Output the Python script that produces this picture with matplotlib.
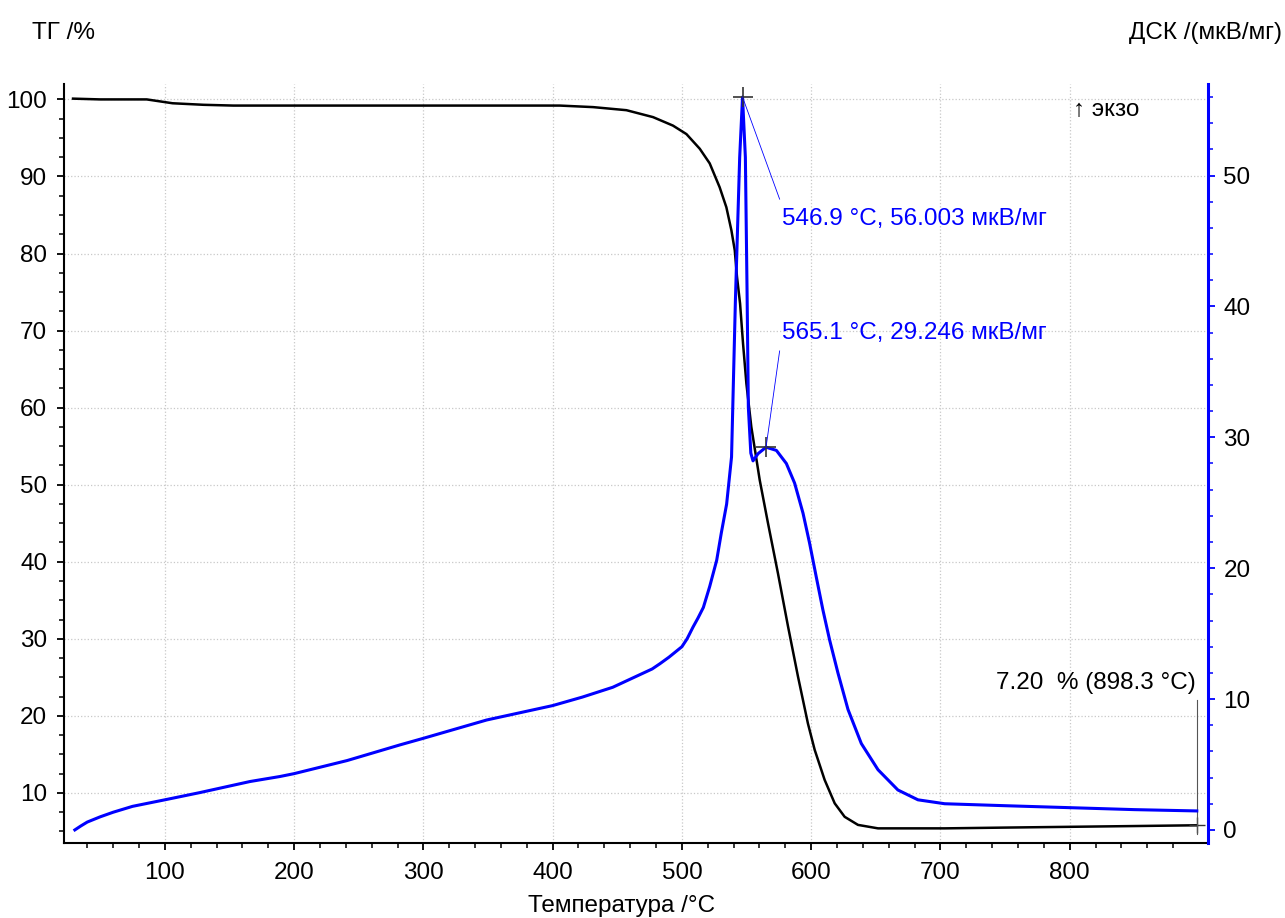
import numpy as np
import matplotlib
matplotlib.use("Agg")
import matplotlib.pyplot as plt
from matplotlib.ticker import MultipleLocator, FixedLocator

plt.rcParams['font.family'] = ['Liberation Sans', 'DejaVu Sans']
FS = 17.5

# TG curve (% mass)
tg_temp = [29, 50, 86, 106, 130, 153, 204, 300, 405.5, 431.3, 457.1, 477.7, 493.1,
           503.5, 513.8, 521.5, 529.2, 534.4, 538.3, 540.9, 542.6, 545, 547.3, 549.9,
           553.7, 560.2, 566.6, 574.3, 582.1, 589.8, 597.5, 602.7, 610.4, 618.2,
           625.9, 636.2, 651.7, 703.3, 750, 800, 850, 898.3]
tg_vals = [100.1, 100.0, 100.0, 99.5, 99.3, 99.2, 99.2, 99.2, 99.2, 99.0, 98.6, 97.7,
           96.6, 95.5, 93.6, 91.7, 88.6, 86.0, 83.0, 80.4, 77.0, 73.5, 68.3, 63.1,
           57.5, 50.6, 45.0, 38.5, 31.6, 25.1, 19.0, 15.6, 11.7, 8.65,
           6.9, 5.85, 5.4, 5.4, 5.5, 5.6, 5.7, 5.8]

# DSC curve (мкВ/мг)
dsc_temp = [30.4, 35, 40, 50, 60, 75, 100, 127, 166, 189, 200, 241, 282, 300, 349,
            400, 423, 446.5, 477, 483, 490, 500, 504, 508.6, 512.5, 516.6, 521.5,
            526.9, 530.5, 534.6, 538.4, 541.4, 544.7, 546.9, 549.1, 550.4, 551.4,
            553.3, 555, 558.9, 565.1, 573.1, 580.8, 587.2, 593.7, 598.8, 604, 609.1,
            614.3, 620.7, 628.5, 638.8, 651.7, 667.1, 682.6, 703.3, 750, 800, 850, 898.3]
dsc_vals = [0.0, 0.3, 0.6, 1.0, 1.35, 1.8, 2.3, 2.85, 3.7, 4.08, 4.3, 5.3, 6.5, 7.0,
            8.4, 9.5, 10.15, 10.9, 12.3, 12.7, 13.2, 14.0, 14.6, 15.5, 16.2, 17.0,
            18.6, 20.6, 22.7, 24.9, 28.5, 40.5, 51.4, 56.003, 51.4, 41.2, 32.3,
            28.8, 28.2, 28.75, 29.246, 29.0, 28.0, 26.5, 24.2, 21.9, 19.3, 16.8,
            14.5, 12.0, 9.2, 6.6, 4.6, 3.05, 2.3, 2.0, 1.85, 1.7, 1.55, 1.45]

x_major = [100, 200, 300, 400, 500, 600, 700, 800]
x_minor = [t for t in range(40, 900, 20) if t % 100 != 0]

peak1 = (546.9, 56.003)
peak2 = (565.1, 29.246)
tg_end = (898.3, 5.8)

fig = plt.figure(figsize=(12.85, 9.18), dpi=100)
ax = fig.add_axes([0.0498, 0.0817, 0.8903, 0.8268])
ax2 = ax.twinx()

ax.plot(tg_temp, tg_vals, color='black', lw=1.8)
ax2.plot(dsc_temp, dsc_vals, color='#0000ff', lw=2.2)

ax.set_xlim(22, 907)
ax.set_ylim(3.5, 102)
ax2.set_ylim(-1, 57)

ax.xaxis.set_major_locator(FixedLocator(x_major))
ax.xaxis.set_minor_locator(FixedLocator(x_minor))
ax.yaxis.set_major_locator(MultipleLocator(10))
ax.yaxis.set_minor_locator(MultipleLocator(2.5))
ax2.yaxis.set_major_locator(MultipleLocator(10))
ax2.yaxis.set_minor_locator(MultipleLocator(2))

ax.grid(True, which='major', color='#c8c8c8', ls=':', lw=0.9)

for a in (ax, ax2):
    a.spines['top'].set_visible(False)
ax.spines['right'].set_visible(False)
ax2.spines['left'].set_visible(False)
ax2.spines['bottom'].set_visible(False)
ax.spines['left'].set_linewidth(1.5)
ax.spines['bottom'].set_linewidth(1.5)
ax2.spines['right'].set_color('#0000ff')
ax2.spines['right'].set_linewidth(2.2)

ax.tick_params(axis='both', which='major', length=5, width=1.3, labelsize=FS)
ax.tick_params(axis='both', which='minor', length=3.5, width=1.1)
ax.tick_params(axis='x', pad=9)
ax.tick_params(axis='y', pad=7)
ax2.tick_params(axis='y', which='major', length=5, width=1.3, colors='#0000ff',
                labelcolor='black', labelsize=FS, pad=6)
ax2.tick_params(axis='y', which='minor', length=3.5, width=1.1, colors='#0000ff')

# peak markers and labels
ax2.plot(*peak1, marker='+', color='#333333', ms=14, mew=1.2)
ax2.plot(*peak2, marker='+', color='#333333', ms=14, mew=1.2)
ax2.plot([peak1[0], 575.6], [peak1[1], 48.2], color='#0000ff', lw=0.6)
ax2.plot([peak2[0], 575.6], [peak2[1], 36.6], color='#0000ff', lw=0.6)
ax2.text(577.2, 46.7, "546.9 °C, 56.003 мкВ/мг", color='#0000ff', fontsize=FS,
         va='center', ha='left')
ax2.text(577.2, 38.0, "565.1 °C, 29.246 мкВ/мг", color='#0000ff', fontsize=FS,
         va='center', ha='left')

# residual mass marker
ax.plot(*tg_end, marker='+', color='#333333', ms=12, mew=1.0)
ax.plot([tg_end[0], tg_end[0]], [4.7, 22.0], color='#555555', lw=0.8)
ax.text(0.9895, 0.211, "7.20  % (898.3 °C)", transform=ax.transAxes, fontsize=FS,
        ha='right', va='center')

ax.text(0.882, 0.966, "↑ экзо", transform=ax.transAxes, fontsize=FS,
        ha='left', va='center')

fig.text(0.025, 0.964, "ТГ /%", fontsize=FS, ha='left', va='center')
fig.text(0.998, 0.964, "ДСК /(мкВ/мг)", fontsize=FS, ha='right', va='center')
fig.text(0.484, 0.013, "Температура /°C", fontsize=FS, ha='center', va='center')

fig.savefig("out.png", dpi=100)
